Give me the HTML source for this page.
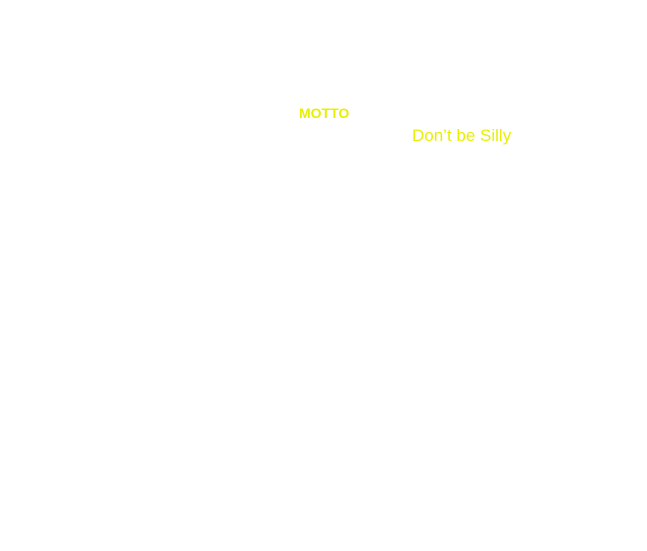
<!DOCTYPE html>
<html><head><style>
html,body{margin:0;padding:0;background:#fff;width:647px;height:551px;overflow:hidden;position:relative}
.t{position:absolute;font-family:"Liberation Sans",sans-serif;color:#e8f000;white-space:nowrap;line-height:1}
</style></head><body>
<div class="t" style="left:299px;top:106px;font-size:14px;font-weight:bold">MOTTO</div>
<div class="t" style="left:412px;top:127px;font-size:17px">Don’t be Silly</div>
</body></html>
